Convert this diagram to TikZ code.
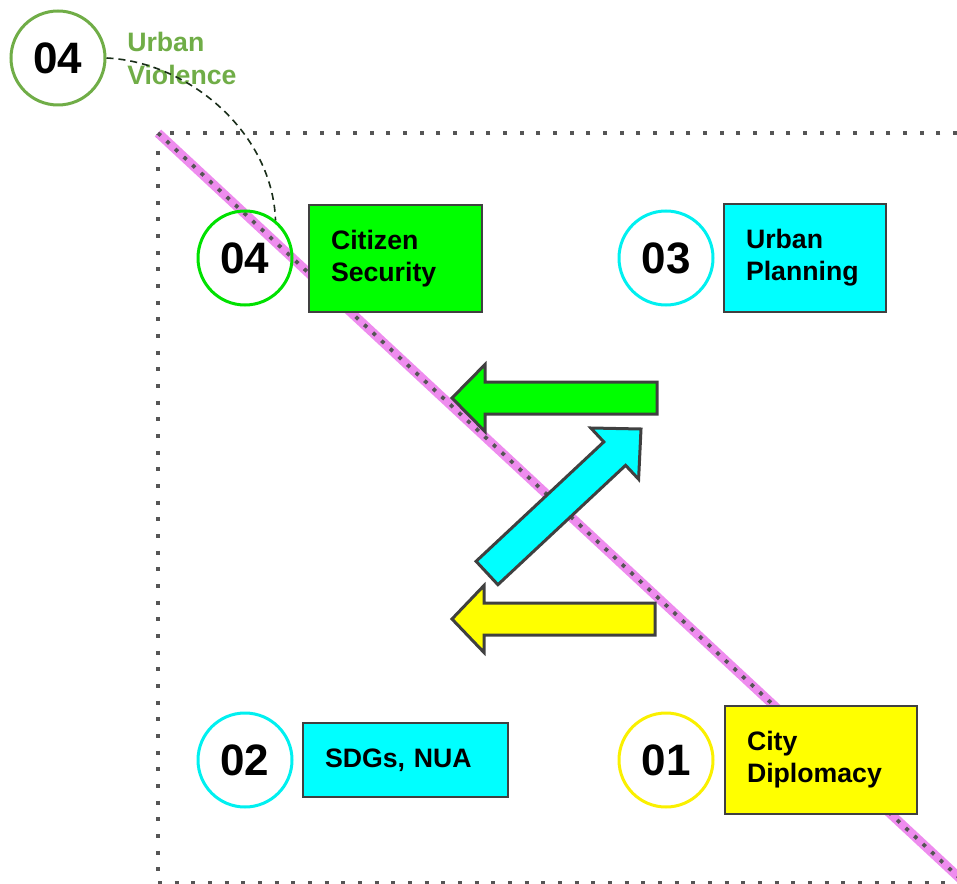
\documentclass[tikz,border=0pt]{standalone}
\usepackage{fontspec}
\setmainfont{Liberation Sans}
\definecolor{uvgreen}{RGB}{112,173,71}
\definecolor{ringgreen}{RGB}{0,225,0}
\definecolor{boxgreen}{RGB}{0,255,0}
\definecolor{boxcyan}{RGB}{0,255,255}
\definecolor{ringcyan}{RGB}{0,240,240}
\definecolor{boxyellow}{RGB}{255,255,0}
\definecolor{ringyellow}{RGB}{250,240,0}
\definecolor{edgegray}{RGB}{64,64,64}
\definecolor{dotgray}{RGB}{85,85,85}
\definecolor{diagpink}{RGB}{238,140,238}
\definecolor{linkdark}{RGB}{25,45,25}
\begin{document}
\begin{tikzpicture}[x=0.75pt,y=-0.75pt,
  numcircle/.style={circle, draw, line width=2.25pt, minimum size=70.5pt, inner sep=0pt,
    font=\fontsize{33}{36}\selectfont\bfseries},
  topicbox/.style={draw=edgegray, line width=1.2pt, inner xsep=16.5pt, inner ysep=2pt,
    align=left, font=\fontsize{20}{24}\selectfont\bfseries},
  borderdots/.style={draw=dotgray, line width=3pt, dash pattern=on 3pt off 9.5pt},
  diagband/.style={draw=diagpink, line width=7pt},
  diagdots/.style={draw=dotgray, line width=2.8pt, dash pattern=on 2.8pt off 6pt},
  linkdash/.style={draw=linkdark, line width=1.2pt, dash pattern=on 5.25pt off 3.75pt},
  bigarrow/.style={draw=edgegray, line width=2.25pt, line join=miter}]

\useasboundingbox (0,0) rectangle (957,884);
\clip (0,0) rectangle (957,884);

% dotted frame
\coordinate (frameNE) at (957,133);
\coordinate (frameNW) at (158,133);
\coordinate (frameSW) at (158,883);
\coordinate (frameSE) at (957,883);
\draw[borderdots] (frameNE) -- (frameNW) -- (frameSW);
\draw[borderdots] (frameSW) -- (frameSE);

% diagonal band
\coordinate (diagA) at (158,133);
\coordinate (diagB) at (966,884);
\draw[diagband] (diagA) -- (diagB);
\draw[diagdots] (diagA) -- (diagB);

% numbered rings
\node[numcircle, draw=uvgreen] (uvring) at (58,58) {04};
\node[numcircle, draw=ringgreen] (ring4) at (245,258) {04};
\node[numcircle, draw=ringcyan] (ring3) at (666,258) {03};
\node[numcircle, draw=ringcyan] (ring2) at (245,760) {02};
\node[numcircle, draw=ringyellow] (ring1) at (666,760) {01};

% caption of the outer ring
\node[anchor=base west, inner sep=0pt, align=left, text=uvgreen,
      font=\fontsize{20}{24.75}\selectfont\bfseries] (uvtext) at (127,85) {Urban\\Violence};

% link from the outer ring to ring 04
\draw[linkdash] (uvring.east) .. controls +(83,4) and +(-3,-87) .. (ring4.51);

% topic boxes
\node[topicbox, fill=boxgreen, text width=96.75pt, minimum height=80.25pt] (security) at (395.5,258.5) {Citizen\\Security};
\node[topicbox, fill=boxcyan, text width=88.5pt, minimum height=81pt] (planning) at (805,258) {Urban\\Planning};
\node[topicbox, fill=boxcyan, text width=120.75pt, minimum height=55.5pt] (sdgs) at (405.5,760) {SDGs, NUA};
\node[topicbox, fill=boxyellow, text width=111pt, minimum height=81pt] (diplomacy) at (821,760) {City\\Diplomacy};

% block arrows
\draw[bigarrow, fill=boxgreen] (657,382) -- (485,382) -- (485,364.5) -- (452,398) -- (485,431.5) -- (485,414) -- (657,414) -- cycle;
\draw[bigarrow, fill=boxcyan] (476.1,561.3) -- (603.8,441.9) -- (590.8,428) -- (641,429) -- (638.6,479.2) -- (625.6,465.3) -- (497.9,584.7) -- cycle;
\draw[bigarrow, fill=boxyellow] (655,603) -- (484,603) -- (484,585.5) -- (452,619) -- (484,652.5) -- (484,635) -- (655,635) -- cycle;

\end{tikzpicture}
\end{document}
